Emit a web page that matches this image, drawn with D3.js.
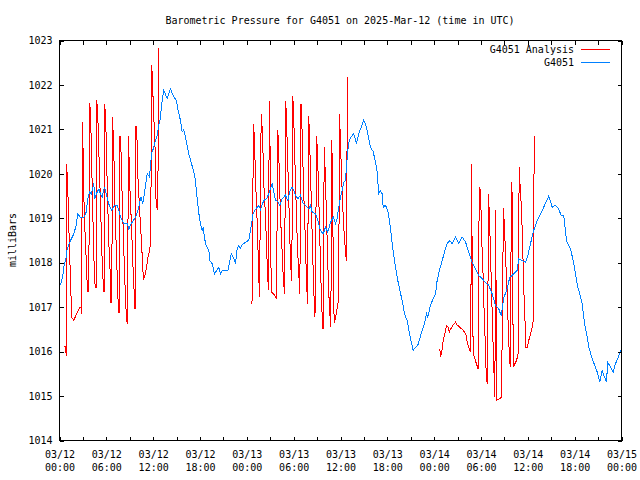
<!DOCTYPE html>
<html><head><meta charset="utf-8">
<script src="https://cdn.jsdelivr.net/npm/d3@7"></script>
<style>
body{margin:0;background:#fff}
svg{display:block}
text{font-family:"DejaVu Sans Mono",monospace;font-size:10px;fill:#000}
</style>
</head><body>
<svg id="chart" width="640" height="480"></svg>
<script>
// ---------- data ----------
const titleText = "Barometric Pressure for G4051 on 2025-Mar-12 (time in UTC)";
const yAxisLabel = "milliBars";
const seriesNames = ["G4051 Analysis", "G4051"];
const seriesColors = ["#ff0000", "#0080ff"];
const startTime = Date.UTC(2025, 2, 12, 0, 0, 0);
const spanHours = 72;
const xTickHours = [0,3,6,9,12,15,18,21,24,27,30,33,36,39,42,45,48,51,54,57,60,63,66,69,72];
const yTicks = [1014,1015,1016,1017,1018,1019,1020,1021,1022,1023];

// observed station pressure (hours after 03/12 00:00 UTC, mb)
const obsHours = [0.13,0.43,0.55,0.85,0.98,1.41,1.84,2.13,2.35,2.69,3.12,3.42,3.63,3.84,4.06,4.40,4.52,4.83,5.04,5.25,5.47,5.76,5.98,6.32,6.66,7.09,7.39,7.60,7.90,8.24,8.67,8.88,9.22,9.74,10.16,10.42,10.67,10.93,11.23,11.53,11.79,12.08,12.30,12.51,12.72,12.94,13.07,13.36,13.80,14.22,14.64,14.95,15.20,15.50,15.72,15.92,16.23,16.56,16.91,17.33,
17.85,18.06,18.28,18.41,18.70,19.13,19.26,19.56,19.86,20.11,20.41,20.63,20.84,21.56,22.0,22.33,22.55,22.76,22.97,23.19,23.40,23.83,24.25,24.47,24.81,25.11,
25.53,25.75,26.17,26.52,26.81,27.25,27.45,27.67,27.97,28.22,28.53,28.95,29.25,29.5,29.81,30.02,30.23,30.53,30.87,31.22,31.51,31.94,32.15,32.37,32.8,33.09,33.44,33.78,34.08,34.37,34.72,35.06,35.36,35.57,35.78,36.0,36.21,36.42,36.64,36.86,37.06,37.28,37.7,38.05,38.34,38.65,38.98,39.33,
39.84,40.19,40.48,40.7,40.9,41.12,41.34,41.47,41.76,42.06,42.31,42.62,42.92,43.26,43.6,43.9,44.2,44.54,44.88,45.18,45.31,45.61,45.9,46.16,46.46,46.76,47.02,47.18,47.53,47.87,48.17,48.38,48.72,49.03,49.32,49.67,50.0,
50.31,50.73,51.15,51.59,52.01,52.43,52.87,53.29,53.72,54.15,54.57,55.0,55.43,55.85,56.28,56.58,56.92,57.27,57.69,58.2,58.64,58.84,59.28,59.7,60.0,60.34,60.76,61.2,61.62,62.04,62.68,
63.12,63.54,63.96,64.27,64.6,64.95,65.46,65.81,66.1,66.4,66.66,66.96,67.26,67.6,67.81,68.24,68.67,68.96,69.22,69.52,69.82,70.07,70.24,70.59,70.93,71.23,71.52,71.87];
const obsValues = [1017.50,1017.71,1017.90,1018.12,1018.31,1018.5,1018.65,1018.84,1019.10,1019.02,1019.02,1019.14,1019.44,1019.59,1019.55,1019.78,1019.44,1019.59,1019.66,1019.55,1019.48,1019.7,1019.55,1019.32,1019.18,1019.29,1019.29,1019.18,1018.99,1018.89,1018.89,1018.76,1018.89,1019.02,1019.25,1019.48,1019.32,1019.63,1020.0,1019.93,1020.45,1020.60,1020.75,1020.86,1021.09,1021.27,1021.54,1021.88,1021.69,1021.91,1021.73,1021.66,1021.43,1021.2,1020.94,1020.99,1020.75,1020.45,1020.23,1019.96,
1019.11,1018.88,1018.72,1018.78,1018.43,1018.28,1018.05,1017.98,1017.75,1017.82,1017.9,1017.75,1017.82,1017.82,1018.2,1018.09,1018.0,1018.31,1018.38,1018.33,1018.4,1018.46,1018.51,1018.72,1019.11,1019.2,
1019.29,1019.2,1019.4,1019.44,1019.55,1019.78,1019.6,1019.4,1019.38,1019.29,1019.44,1019.52,1019.4,1019.6,1019.7,1019.63,1019.52,1019.44,1019.52,1019.33,1019.29,1019.21,1019.29,1019.14,1019.1,1018.95,1018.72,1018.65,1018.8,1018.69,1018.9,1019.03,1018.88,1019.0,1019.25,1019.48,1019.63,1019.81,1019.85,1020.38,1020.71,1020.82,1020.9,1020.68,1020.9,1021.05,1021.21,1021.05,
1020.6,1020.5,1020.26,1020.04,1019.55,1019.62,1019.55,1019.25,1019.29,1019.18,1018.91,1018.43,1018.05,1017.67,1017.38,1017.15,1016.85,1016.7,1016.36,1016.14,1016.03,1016.1,1016.14,1016.29,1016.48,1016.63,1016.85,1016.78,1017.04,1017.19,1017.3,1017.6,1017.86,1018.05,1018.24,1018.43,1018.5,
1018.43,1018.58,1018.43,1018.58,1018.47,1018.24,1018.01,1017.86,1017.71,1017.64,1017.56,1017.49,1017.3,1017.04,1016.96,1016.81,1017.22,1017.37,1017.67,1017.75,1017.83,1018.09,1018.05,1018.01,1018.16,1018.43,1018.73,1018.95,1019.1,1019.25,1019.5,
1019.25,1019.29,1019.21,1019.06,1019.06,1018.5,1018.31,1018.05,1017.75,1017.45,1017.3,1017.08,1016.63,1016.33,1016.1,1015.84,1015.65,1015.5,1015.31,1015.58,1015.43,1015.31,1015.76,1015.65,1015.54,1015.73,1015.84,1016.03];

// analysis runs, three separate periods
const anaHours1 = [0.55,0.77,0.86,0.90,1.02,1.15,1.24,1.37,1.50,1.58,1.83,2.18,2.60,2.78,2.86,2.91,2.99,3.11,3.20,3.37,3.50,3.63,3.75,3.88,4.01,4.10,4.23,4.32,4.45,4.57,4.70,4.78,4.91,5.03,5.16,5.29,5.38,5.55,5.64,5.73,5.80,5.93,6.02,6.15,6.24,6.37,6.50,6.57,6.70,6.79,6.88,7.01,7.08,7.21,7.34,7.47,7.60,7.69,7.73,7.85,7.94,8.07,8.20,8.33,8.49,8.67,8.75,8.80,8.88,9.01,9.26,9.39,9.52,9.65,9.70,9.74,9.90,9.99,10.08,10.25,10.38,10.51,10.63,10.76,10.93,11.15,11.36,11.57,11.70,11.79,11.91,12.00,12.13,12.26,12.34,12.47,12.59,12.72];
const anaValues1 = [1016.12,1016.12,1015.91,1020.23,1019.87,1019.18,1018.5,1017.83,1017.11,1016.77,1016.70,1016.85,1017.0,1017.0,1016.85,1021.16,1020.83,1019.59,1018.95,1018.31,1017.67,1017.36,1017.36,1021.59,1021.16,1020.34,1019.48,1018.69,1017.86,1017.45,1017.45,1021.65,1021.29,1020.56,1019.85,1019.14,1018.43,1017.75,1017.36,1017.36,1021.56,1021.16,1020.45,1019.48,1018.95,1018.2,1017.75,1017.11,1017.11,1021.27,1020.88,1020.15,1019.48,1018.69,1018.0,1017.26,1016.89,1016.89,1020.86,1020.75,1020.0,1019.25,1018.54,1017.79,1017.04,1016.63,1016.63,1020.86,1020.53,1019.7,1018.69,1018.0,1017.53,1016.96,1016.96,1021.07,1021.07,1020.19,1019.78,1019.25,1018.8,1018.5,1017.97,1017.64,1017.7,1017.9,1018.16,1018.28,1018.6,1022.44,1022.18,1021.62,1021.07,1020.5,1019.48,1019.25,1019.2,1022.84];

const anaHours2 = [24.66,24.85,24.98,25.11,25.28,25.43,25.62,25.84,25.97,26.10,26.22,26.35,26.52,26.65,26.78,26.87,26.97,27.06,27.13,27.42,27.80,27.97,28.10,28.22,28.35,28.51,28.66,28.83,28.99,29.12,29.25,29.38,29.50,29.63,29.76,29.89,30.02,30.14,30.27,30.40,30.58,30.79,30.94,31.07,31.19,31.32,31.48,31.61,31.77,31.93,32.05,32.18,32.31,32.44,32.57,32.73,32.95,33.08,33.21,33.33,33.46,33.59,33.76,33.92,34.05,34.18,34.31,34.44,34.59,34.76,34.89,35.00,35.10,35.19,35.36,35.55,35.77,35.87,36.00,36.13,36.26,36.38,36.58,36.74,36.90];
const anaValues2 = [1017.06,1021.13,1020.79,1019.9,1019.14,1018.3,1017.22,
1021.35,1021.0,1020.34,1019.55,1019.2,1018.43,1017.75,1017.38,
1021.63,1020.6,1018.5,1017.35,1017.3,1017.2,
1020.98,1020.4,1019.6,1018.9,1018.3,1017.7,1017.3,
1021.63,1021.0,1020.2,1019.4,1018.6,1017.9,1017.6,
1021.75,1021.2,1020.4,1019.6,1018.8,1018.0,1017.3,
1021.56,1021.0,1020.2,1019.4,1018.6,1017.8,1017.08,
1021.29,1020.7,1019.9,1019.0,1018.2,1017.4,1016.77,
1020.85,1020.3,1019.5,1018.7,1017.8,1017.0,1016.51,
1020.6,1020.0,1019.2,1018.4,1017.6,1016.95,1016.55,
1020.75,1019.3,1017.5,1016.65,1016.75,1016.95,1017.2,
1021.35,1020.7,1020.0,1019.4,1018.9,1018.4,1018.05,
1022.17];

const anaHours3 = [48.72,48.81,48.94,49.16,49.36,49.58,49.80,49.93,50.09,50.44,50.73,50.95,51.28,51.72,52.05,52.23,52.44,52.56,52.69,52.78,52.87,53.00,53.21,53.42,53.64,53.77,53.90,53.97,54.10,54.28,54.36,54.49,54.61,54.70,54.83,54.96,55.09,55.22,55.43,55.56,55.69,55.77,55.90,55.96,56.24,56.63,56.88,57.05,57.18,57.36,57.48,57.61,57.74,57.91,58.00,58.07,58.13,58.33,58.55,58.76,58.89,59.02,59.19,59.32,59.41,59.53,59.66,59.74,59.92,60.12,60.34,60.56,60.69,60.82];
const anaValues3 = [1016.06,1015.91,1015.95,1016.25,1016.4,1016.59,1016.55,1016.44,1016.5,1016.6,1016.66,1016.6,1016.55,1016.48,1016.4,1016.21,1016.1,1016.03,1016.0,1020.23,1018.1,1015.95,1015.85,1015.72,1015.61,1019.7,1019.65,1019.4,1018.5,1017.67,1017.1,1016.5,1015.8,1015.35,1015.28,1019.55,1019.0,1018.2,1016.89,1016.1,1015.39,1014.97,1019.18,1014.9,1014.93,1014.97,1019.24,1018.6,1018.0,1017.3,1016.6,1016.0,1015.65,1019.81,1019.5,1017.6,1015.65,1015.72,1015.8,1015.95,1020.15,1019.7,1019.2,1018.5,1017.9,1017.15,1016.6,1016.1,1016.1,1016.25,1016.4,1016.55,1016.7,1020.86];

// ---------- drawing ----------
const W = 640, H = 480;
const L = 59.5, R = 621.5, T = 40.5, B = 440.5;
const svg = d3.select("#chart");
const toDate = h => new Date(startTime + h * 3600e3);

const x = d3.scaleUtc().domain([toDate(0), toDate(spanHours)]).range([L, R]);
const y = d3.scaleLinear().domain([yTicks[0], yTicks[yTicks.length - 1]]).range([B, T]);

const zip = (hs, vs) => hs.map((h, i) => ({t: toDate(h), v: vs[i]}));
const line = d3.line().x(d => x(d.t)).y(d => y(d.v));

const plot = svg.append("g");
[zip(anaHours1, anaValues1), zip(anaHours2, anaValues2), zip(anaHours3, anaValues3)].forEach(seg => {
  plot.append("path").datum(seg).attr("d", line)
    .attr("fill", "none").attr("stroke", seriesColors[0]).attr("stroke-width", 1)
    .attr("shape-rendering", "crispEdges");
});
plot.append("path").datum(zip(obsHours, obsValues)).attr("d", line)
  .attr("fill", "none").attr("stroke", seriesColors[1]).attr("stroke-width", 1)
  .attr("shape-rendering", "crispEdges");

// axes
const tickDates = xTickHours.map(toDate);
const fmtDay = d3.utcFormat("%m/%d"), fmtTime = d3.utcFormat("%H:%M");
const tk = 4;

const gx = svg.append("g").attr("transform", `translate(0,${B})`)
  .call(d3.axisBottom(x).tickValues(tickDates).tickSize(-tk).tickSizeOuter(0).tickFormat(""));
gx.selectAll(".tick").filter(d => (d - startTime) % (6 * 3600e3) === 0)
  .append("text").attr("fill", "#000").attr("text-anchor", "middle")
  .each(function(d) {
    const t = d3.select(this);
    t.append("tspan").attr("x", 0).attr("y", 17).text(fmtDay(d));
    t.append("tspan").attr("x", 0).attr("y", 30).text(fmtTime(d));
  });
svg.append("g").attr("transform", `translate(0,${T})`)
  .call(d3.axisTop(x).tickValues(tickDates).tickSize(-tk).tickSizeOuter(0).tickFormat(""));

svg.append("g").attr("transform", `translate(${L},0)`)
  .call(d3.axisLeft(y).tickValues(yTicks).tickSize(-tk).tickSizeOuter(0).tickPadding(7).tickFormat(d3.format("d")))
  .selectAll("text").attr("font-size", null).attr("font-family", null);
svg.append("g").attr("transform", `translate(${R},0)`)
  .call(d3.axisRight(y).tickValues(yTicks).tickSize(-tk).tickSizeOuter(0).tickFormat(""));

svg.selectAll(".domain").remove();
svg.selectAll(".tick line").attr("stroke", "#000").attr("shape-rendering", "crispEdges");
svg.selectAll("g").attr("font-family", null).attr("font-size", null);

svg.append("rect").attr("x", L).attr("y", T).attr("width", R - L).attr("height", B - T)
  .attr("fill", "none").attr("stroke", "#000").attr("shape-rendering", "crispEdges");

// title & labels
svg.append("text").attr("x", 340).attr("y", 24).attr("text-anchor", "middle").text(titleText);
svg.append("text").attr("transform", "translate(16,240) rotate(-90)").attr("text-anchor", "middle").text(yAxisLabel);

// legend
const leg = svg.append("g");
seriesNames.forEach((name, i) => {
  const cy = 49.5 + i * 13;
  leg.append("text").attr("x", 574).attr("y", cy + 3.5).attr("text-anchor", "end").text(name);
  leg.append("line").attr("x1", 581).attr("x2", 610).attr("y1", cy).attr("y2", cy)
    .attr("stroke", seriesColors[i]).attr("shape-rendering", "crispEdges");
});
</script>
</body></html>
